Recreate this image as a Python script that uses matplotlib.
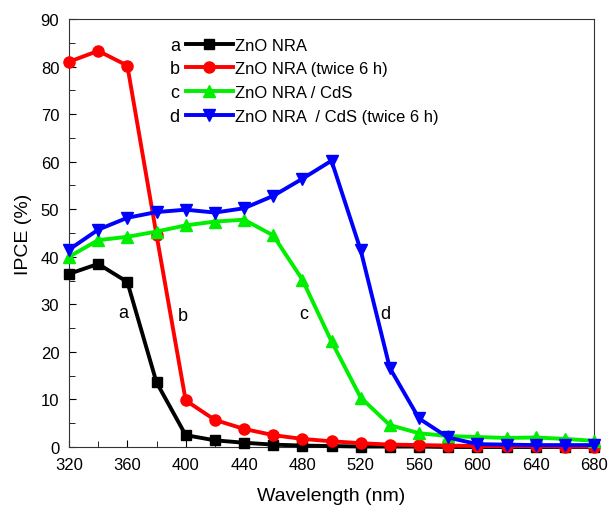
import numpy as np
import matplotlib
matplotlib.use("Agg")
import matplotlib.pyplot as plt
from matplotlib.ticker import MultipleLocator

plt.rcParams["font.family"] = ["Liberation Sans", "DejaVu Sans"]

wl = np.arange(320, 681, 20)
ipce_a = [36.4, 38.5, 34.7, 13.6, 2.5, 1.4, 0.9, 0.5, 0.3, 0.2, 0.1, 0.1, 0.1,
          0.0, 0.0, 0.0, 0.0, 0.0, 0.0]
ipce_b = [81.0, 83.3, 80.2, 44.6, 9.8, 5.7, 3.8, 2.5, 1.7, 1.2, 0.8, 0.5, 0.4,
          0.3, 0.2, 0.2, 0.2, 0.1, 0.1]
ipce_c = [40.0, 43.5, 44.2, 45.3, 46.6, 47.4, 47.8, 44.5, 35.2, 22.2, 10.4, 4.6,
          2.9, 2.3, 2.1, 1.9, 2.0, 1.7, 1.3]
ipce_d = [41.5, 45.7, 48.2, 49.4, 49.9, 49.3, 50.2, 52.8, 56.4, 60.2, 41.4, 16.6,
          6.0, 2.0, 0.6, 0.5, 0.4, 0.4, 0.4]
labels = ["ZnO NRA", "ZnO NRA (twice 6 h)", "ZnO NRA / CdS", "ZnO NRA  / CdS (twice 6 h)"]
letters = ["a", "b", "c", "d"]

fig = plt.figure(figsize=(6.08, 5.06), dpi=100)
ax = fig.add_axes([69 / 608, 1 - 448 / 506, 525 / 608, 428 / 506])

styles = [("#000000", "s", 7), ("#ff0000", "o", 8), ("#00ee00", "^", 8), ("#0000ff", "v", 8)]
series = [ipce_a, ipce_b, ipce_c, ipce_d]
for y, (c, m, ms), lab in zip(series, styles, labels):
    ax.plot(wl, y, color=c, marker=m, ms=ms, lw=2.8, label=lab, clip_on=False, zorder=3)

# curve letters
for xt, yt, t in [(357, 28.3, "a"), (398, 27.7, "b"), (481, 28.0, "c"), (537, 28.0, "d")]:
    ax.text(xt, yt, t, fontsize=13, ha="center", va="center")

leg = ax.legend(loc="upper left", bbox_to_anchor=(0.21, 0.972), frameon=False,
                fontsize=12, handlelength=2.8, handletextpad=0.15, labelspacing=0.52,
                borderaxespad=0)

ax.set_xlim(320, 680)
ax.set_ylim(0, 90)
ax.xaxis.set_major_locator(MultipleLocator(40))
ax.xaxis.set_minor_locator(MultipleLocator(20))
ax.yaxis.set_major_locator(MultipleLocator(10))
ax.yaxis.set_minor_locator(MultipleLocator(5))
ax.tick_params(which="both", direction="in", top=False, right=False, labelsize=12, pad=7)
ax.tick_params(which="major", length=5)
ax.tick_params(which="minor", length=4)
for s in ax.spines.values():
    s.set_color("#333333")
ax.set_xlabel("Wavelength (nm)", fontsize=14, labelpad=11)
ax.set_ylabel("IPCE (%)", fontsize=14, labelpad=6)

# letters in front of legend entries, aligned with each legend row
fig.canvas.draw()
inv = ax.transAxes.inverted()
for txt, h, t in zip(leg.get_texts(), leg.legend_handles, letters):
    bb = txt.get_window_extent()
    hb = h.get_window_extent(fig.canvas.get_renderer())
    xa, ya = inv.transform((hb.x0 - 1, (bb.y0 + bb.y1) / 2))
    ax.text(xa, ya, t, transform=ax.transAxes, fontsize=13, ha="right", va="center")

fig.savefig("out.png", dpi=100)
